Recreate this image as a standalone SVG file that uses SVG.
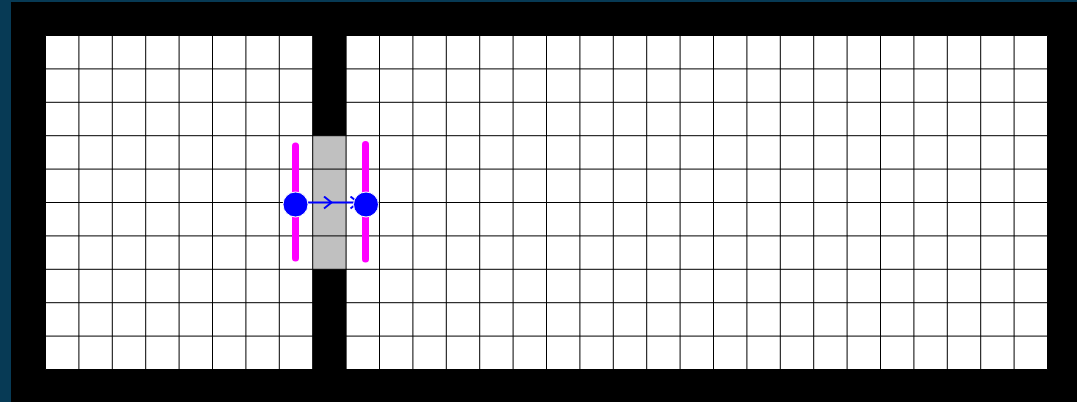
<svg xmlns="http://www.w3.org/2000/svg" width="1077" height="402" viewBox="0 0 1077 402">
<style>
.grid{fill:none;stroke:#000;stroke-width:1}
.bar{stroke:#ff00ff;stroke-width:7;stroke-linecap:round}
.node{fill:#0000ff;stroke:#fff;stroke-width:1}
.conn{fill:none;stroke:#0000ff;stroke-width:2}
</style>
<defs>
<marker id="chev" markerWidth="12" markerHeight="14" refX="9" refY="7" orient="auto" markerUnits="userSpaceOnUse">
<path d="M1.5,1 L9,7 L1.5,13" fill="none" stroke="#0000ff" stroke-width="2"/>
</marker>
</defs>
<rect x="0" y="0" width="1077" height="402" fill="#073a55"/>
<rect x="11" y="2" width="1066" height="400" fill="#000"/>
<g id="floor">
<rect x="45.5" y="35.5" width="1002" height="334" fill="#fff"/>
<rect x="312.7" y="135.7" width="33.4" height="133.6" fill="#c0c0c0"/>
<path class="grid" d="M45.5,35.5V369.5M78.9,35.5V369.5M112.3,35.5V369.5M145.7,35.5V369.5M179.1,35.5V369.5M212.5,35.5V369.5M245.9,35.5V369.5M279.3,35.5V369.5M312.7,35.5V369.5M346.1,35.5V369.5M379.5,35.5V369.5M412.9,35.5V369.5M446.3,35.5V369.5M479.7,35.5V369.5M513.1,35.5V369.5M546.5,35.5V369.5M579.9,35.5V369.5M613.3,35.5V369.5M646.7,35.5V369.5M680.1,35.5V369.5M713.5,35.5V369.5M746.9,35.5V369.5M780.3,35.5V369.5M813.7,35.5V369.5M847.1,35.5V369.5M880.5,35.5V369.5M913.9,35.5V369.5M947.3,35.5V369.5M980.7,35.5V369.5M1014.1,35.5V369.5M1047.5,35.5V369.5M45.5,35.5H1047.5M45.5,68.9H1047.5M45.5,102.3H1047.5M45.5,135.7H1047.5M45.5,169.1H1047.5M45.5,202.5H1047.5M45.5,235.9H1047.5M45.5,269.3H1047.5M45.5,302.7H1047.5M45.5,336.1H1047.5M45.5,369.5H1047.5"/>
<rect x="312.7" y="30" width="33.4" height="105.7" fill="#000"/>
<rect x="312.7" y="269.3" width="33.4" height="105" fill="#000"/>
</g>
<g id="door-left"><line class="bar" x1="295.5" y1="146" x2="295.5" y2="258"/></g>
<g id="door-right"><line class="bar" x1="365.5" y1="144.5" x2="365.5" y2="259"/></g>
<g id="connectors">
<path class="conn" d="M308,202.5 L331.5,202.5 L358,202.5" marker-mid="url(#chev)" marker-end="url(#chev)"/>
</g>
<g id="node-a"><circle class="node" cx="295.5" cy="204.5" r="12.5"/></g>
<g id="node-b"><circle class="node" cx="366" cy="204.5" r="12.5"/></g>
</svg>
